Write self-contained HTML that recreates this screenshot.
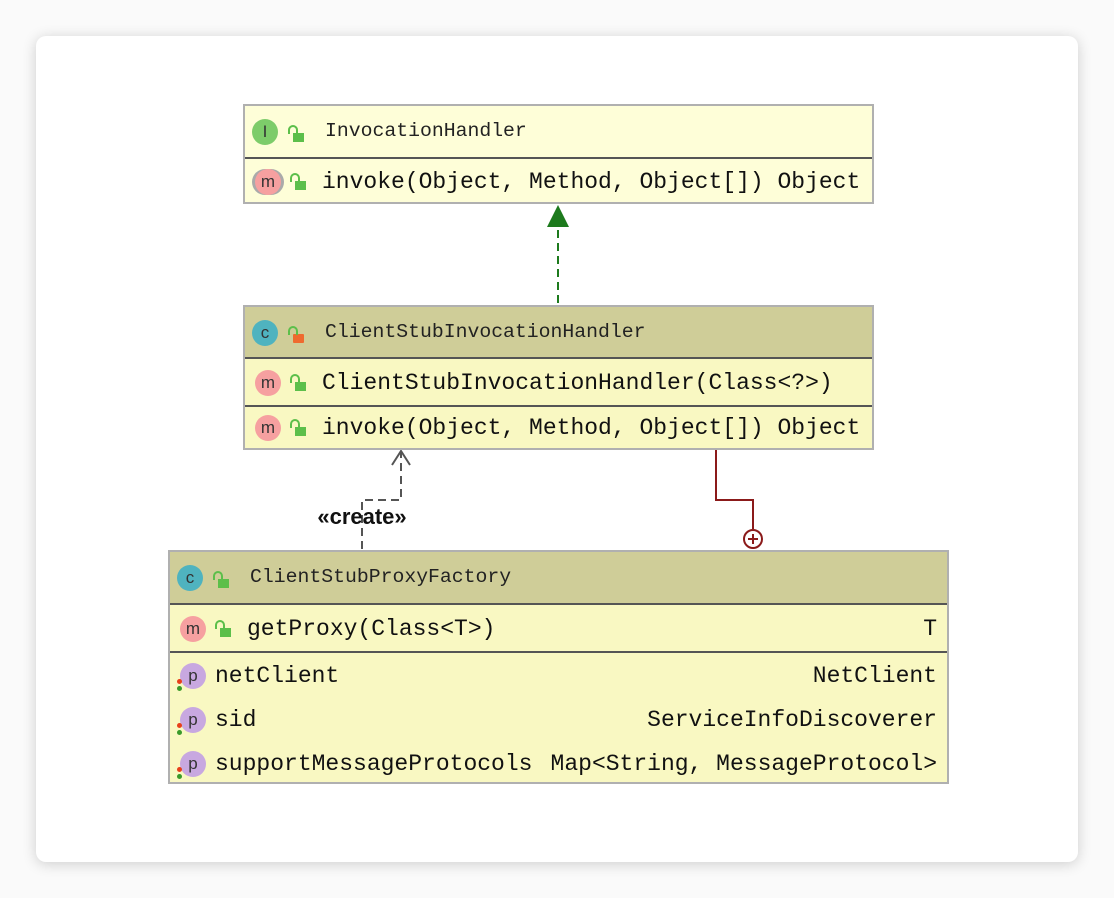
<!DOCTYPE html>
<html><head><meta charset="utf-8"><style>
body{margin:0;width:1114px;height:898px;background:#fafafa;position:relative;overflow:hidden;font-family:"Liberation Mono","Courier New",monospace}
.card{position:absolute;left:36px;top:36px;width:1042px;height:826px;background:#fff;border-radius:10px;box-shadow:0 2px 14px rgba(0,0,0,.18)}
.box{position:absolute;border:2px solid #b0b0b0;box-sizing:border-box;background:#f9f8c2}
.row{position:absolute;left:0;right:0;box-sizing:border-box}
.hd{font-size:19.8px;color:#222}
.mb{font-size:23px;color:#111}
.sep{border-top:2px solid #555}
.ic{position:absolute;width:26px;height:26px;border-radius:50%;text-align:center;line-height:26px;font-family:"Liberation Sans",sans-serif;font-size:17px;color:#333}
.t{position:absolute;white-space:pre}
.lk{position:absolute;width:11px;height:9px;background:#5cbf4a}
.lk:before{content:"";position:absolute;left:-5px;top:-8px;width:6px;height:7px;border:2px solid #5cbf4a;border-bottom:none;border-radius:5px 5px 0 0}
.dot{position:absolute;width:5px;height:5px;border-radius:50%}
</style></head><body>
<div class="card"></div>

<svg style="position:absolute;left:0;top:0" width="1114" height="898">
<line x1="558" y1="303" x2="558" y2="225" stroke="#1d7a1d" stroke-width="2" stroke-dasharray="8,5"/>
<polygon points="558,205 547,227 569,227" fill="#1d7a1d"/>
<polyline points="362,549 362,500 401,500 401,452" fill="none" stroke="#555" stroke-width="2" stroke-dasharray="8,5"/>
<polyline points="392,465 401,451 410,465" fill="none" stroke="#555" stroke-width="2"/>
<polyline points="716,450 716,500 753,500 753,529" fill="none" stroke="#8b1a1a" stroke-width="2"/>
<circle cx="753" cy="539" r="9" fill="#fff" stroke="#8b1a1a" stroke-width="2"/>
<line x1="748" y1="539" x2="758" y2="539" stroke="#8b1a1a" stroke-width="2"/>
<line x1="753" y1="534" x2="753" y2="544" stroke="#8b1a1a" stroke-width="2"/>
<text x="362" y="524" text-anchor="middle" font-family="Liberation Sans,sans-serif" font-size="22" font-weight="bold" fill="#111">«create»</text>
</svg>

<!-- Box 1 -->
<div class="box" style="left:243px;top:104px;width:631px;height:100px;background:#fefed8">
 <div class="row hd" style="top:0;height:52px">
  <div class="ic" style="left:7px;top:13px;background:#7dcc6a">I</div>
  <div class="lk" style="left:48px;top:27px"></div>
  <div class="t" style="left:80px;top:14px">InvocationHandler</div>
 </div>
 <div class="row mb sep" style="top:51px;height:47px">
  <div class="ic" style="left:10px;top:10px;background:#f6a0a0;box-shadow:-3px 0 0 #aaa,3px 0 0 #aaa">m</div>
  <div class="lk" style="left:50px;top:22px"></div>
  <div class="t" style="left:77px;top:10px">invoke(Object, Method, Object[]) Object</div>
 </div>
</div>

<!-- Box 2 -->
<div class="box" style="left:243px;top:305px;width:631px;height:145px">
 <div class="row hd" style="top:0;height:51px;background:#cfcd98">
  <div class="ic" style="left:7px;top:13px;background:#4fb3bf">c</div>
  <div class="lk" style="left:48px;top:27px;background:#ef6a2f;border-radius:1px"></div>
  <div class="t" style="left:80px;top:14px">ClientStubInvocationHandler</div>
 </div>
 <div class="row mb sep" style="top:50px;height:48px">
  <div class="ic" style="left:10px;top:11px;background:#f6a0a0">m</div>
  <div class="lk" style="left:50px;top:23px"></div>
  <div class="t" style="left:77px;top:11px">ClientStubInvocationHandler(Class&lt;?&gt;)</div>
 </div>
 <div class="row mb sep" style="top:98px;height:45px">
  <div class="ic" style="left:10px;top:8px;background:#f6a0a0">m</div>
  <div class="lk" style="left:50px;top:20px"></div>
  <div class="t" style="left:77px;top:8px">invoke(Object, Method, Object[]) Object</div>
 </div>
</div>

<!-- Box 3 -->
<div class="box" style="left:168px;top:550px;width:781px;height:234px">
 <div class="row hd" style="top:0;height:51px;background:#cfcd98">
  <div class="ic" style="left:7px;top:13px;background:#4fb3bf">c</div>
  <div class="lk" style="left:48px;top:27px"></div>
  <div class="t" style="left:80px;top:14px">ClientStubProxyFactory</div>
 </div>
 <div class="row mb sep" style="top:51px;height:48px">
  <div class="ic" style="left:10px;top:11px;background:#f6a0a0">m</div>
  <div class="lk" style="left:50px;top:23px"></div>
  <div class="t" style="left:77px;top:11px">getProxy(Class&lt;T&gt;)</div>
  <div class="t" style="right:10px;top:11px">T</div>
 </div>
 <div class="row mb sep" style="top:99px;height:133px">
  <div class="ic" style="left:10px;top:10px;background:#c8a8e0">p</div>
  <div class="dot" style="left:7px;top:26px;background:#e8401a"></div><div class="dot" style="left:7px;top:33px;background:#3a9a2a"></div>
  <div class="t" style="left:45px;top:10px">netClient</div>
  <div class="t" style="right:10px;top:10px">NetClient</div>
  <div class="ic" style="left:10px;top:54px;background:#c8a8e0">p</div>
  <div class="dot" style="left:7px;top:70px;background:#e8401a"></div><div class="dot" style="left:7px;top:77px;background:#3a9a2a"></div>
  <div class="t" style="left:45px;top:54px">sid</div>
  <div class="t" style="right:10px;top:54px">ServiceInfoDiscoverer</div>
  <div class="ic" style="left:10px;top:98px;background:#c8a8e0">p</div>
  <div class="dot" style="left:7px;top:114px;background:#e8401a"></div><div class="dot" style="left:7px;top:121px;background:#3a9a2a"></div>
  <div class="t" style="left:45px;top:98px">supportMessageProtocols</div>
  <div class="t" style="right:10px;top:98px">Map&lt;String, MessageProtocol&gt;</div>
 </div>
</div>
</body></html>
